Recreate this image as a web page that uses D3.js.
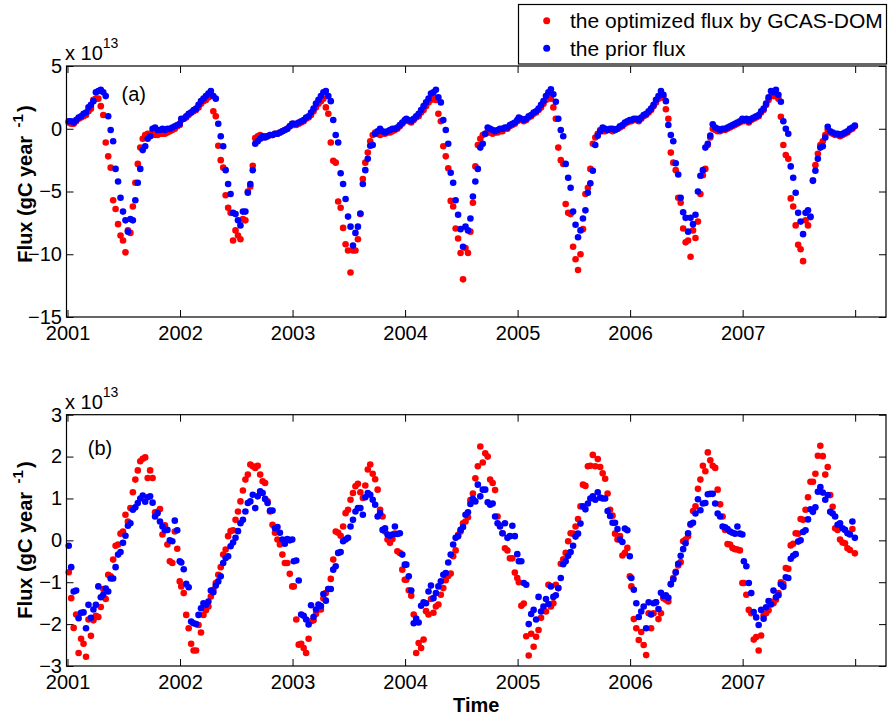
<!DOCTYPE html>
<html>
<head>
<meta charset="utf-8">
<title>Flux</title>
<script src="https://cdn.jsdelivr.net/npm/d3@7"></script>
<style>
  body { margin: 0; background: #fff; }
  svg { display: block; font-family: 'Liberation Sans', Arial, sans-serif; }
</style>
</head>
<body>
<svg id="chart" width="888" height="719"></svg>
<script>
'use strict';

var years = [2001, 2002, 2003, 2004, 2005, 2006, 2007];
var xTicks = [2001, 2002, 2003, 2004, 2005, 2006, 2007, 2008];
var yTicksA = [-15, -10, -5, 0, 5];
var yTicksB = [-3, -2, -1, 0, 1, 2, 3];
var seriesNames = ['the optimized flux by GCAS-DOM', 'the prior flux'];
var seriesColors = ['#ff0000', '#0000ff'];

// 8-day values (46 a year), units of 1e13 gC/year, one row per year
var optimizedA = [
  [0.5,0.4,0.4,0.6,0.8,0.9,1.0,1.1,1.4,1.6,2.3,2.4,2.4,1.8,1.1,-1.1,-2.2,-3.1,-5.7,-6.4,-7.6,-8.5,-8.9,-9.85,-8.1,-8.3,-6.2,-4.3,-2.8,-1.5,-0.8,-0.5,-0.4,-0.4,-0.5,-0.5,-0.5,-0.4,-0.4,-0.4,-0.3,-0.2,-0.1,0.0,0.2,0.3],
  [0.7,0.8,0.9,1.1,1.3,1.4,1.5,1.7,2.0,2.2,2.3,2.5,2.6,1.4,1.0,-1.35,-2.5,-3.1,-5.3,-6.3,-6.7,-8.9,-8.1,-8.5,-8.8,-7.2,-7.3,-5.0,-4.6,-2.95,-0.75,-0.6,-0.5,-0.7,-0.6,-0.6,-0.5,-0.5,-0.4,-0.4,-0.3,-0.2,-0.1,0.0,0.2,0.4],
  [0.3,0.3,0.4,0.5,0.6,0.8,0.9,1.1,1.4,1.7,2.0,2.2,2.4,1.7,1.2,-1.1,-2.55,-2.7,-5.8,-6.3,-7.9,-9.2,-9.7,-11.45,-9.7,-9.7,-8.8,-6.8,-4.0,-2.7,-1.9,-1.0,-0.5,-0.3,-0.4,-0.5,-0.4,-0.4,-0.3,-0.3,-0.2,-0.1,0.0,0.2,0.4,0.6],
  [0.7,0.6,0.5,0.7,0.9,1.0,1.3,1.5,1.8,2.1,2.3,2.5,2.3,1.2,0.6,-1.4,-2.2,-3.15,-5.75,-6.2,-7.95,-8.75,-9.9,-12.0,-9.5,-9.9,-8.2,-5.9,-3.0,-1.3,-0.8,-0.5,-0.4,-0.3,-0.3,-0.4,-0.3,-0.3,-0.2,-0.2,0.0,0.0,0.2,0.3,0.4,0.6],
  [0.8,0.7,0.6,0.7,0.9,1.0,1.2,1.3,1.5,1.7,2.0,2.3,2.6,2.4,1.7,0.8,-1.5,-2.5,-2.8,-6.0,-6.7,-6.8,-9.4,-10.4,-11.25,-10.0,-8.0,-5.2,-4.7,-3.2,-1.2,-0.7,-0.4,-0.1,-0.2,-0.2,-0.1,-0.1,-0.2,-0.1,0.0,0.1,0.2,0.4,0.5,0.6],
  [0.6,0.7,0.7,0.6,0.8,1.0,1.1,1.3,1.5,1.8,2.1,2.4,2.5,2.5,1.55,0.8,-1.9,-2.7,-3.3,-5.5,-5.9,-7.95,-9.05,-8.9,-10.2,-8.1,-8.7,-7.4,-5.2,-3.7,-3.2,-1.3,-0.7,0.0,-0.1,-0.2,-0.2,-0.1,-0.1,0.0,0.1,0.2,0.3,0.4,0.5,0.7],
  [0.6,0.7,0.5,0.7,0.8,0.9,1.0,1.3,1.5,1.9,2.3,2.6,2.6,2.6,2.4,0.95,-1.3,-2.1,-2.4,-5.55,-6.2,-7.7,-9.25,-9.6,-10.55,-7.3,-7.7,-7.05,-4.1,-2.9,-2.0,-1.3,-1.0,-0.5,-0.1,-0.3,-0.4,-0.5,-0.5,-0.6,-0.5,-0.4,-0.3,-0.1,0.0,0.2]
];

var priorA = [
  [0.6,0.6,0.5,0.7,0.9,1.0,1.2,1.3,1.7,1.9,2.2,2.9,3.0,3.1,2.9,2.6,1.0,-0.1,-1.0,-3.2,-4.2,-5.5,-6.6,-7.3,-8.2,-7.2,-7.3,-5.7,-4.3,-3.2,-1.7,-1.4,-0.8,-0.6,0.0,0.1,-0.1,-0.1,0.0,-0.1,0.0,0.0,0.1,0.2,0.3,0.4],
  [0.8,0.8,1.0,1.2,1.3,1.5,1.6,1.9,2.2,2.4,2.6,2.8,3.0,2.6,2.4,0.4,-0.6,-1.4,-3.3,-4.4,-5.2,-6.7,-6.8,-7.3,-7.7,-6.6,-6.6,-5.1,-4.4,-3.3,-1.2,-1.0,-0.8,-0.6,-0.7,-0.6,-0.5,-0.5,-0.4,-0.4,-0.3,-0.2,-0.1,0.0,0.2,0.4],
  [0.4,0.4,0.5,0.6,0.7,0.9,1.0,1.3,1.6,2.0,2.3,2.6,2.9,3.0,2.6,2.2,0.7,-0.5,-1.1,-3.55,-4.4,-5.6,-7.0,-7.8,-9.3,-8.3,-7.8,-6.75,-4.4,-3.3,-2.4,-1.35,-1.3,-0.4,-0.2,0.0,-0.2,-0.3,-0.2,-0.1,0.0,0.0,0.1,0.3,0.5,0.7],
  [0.8,0.7,0.6,0.8,1.0,1.2,1.5,1.8,2.1,2.4,2.8,2.9,3.1,2.5,2.1,0.7,-0.1,-1.2,-3.5,-4.3,-5.7,-6.85,-8.0,-9.4,-7.8,-8.1,-7.15,-5.4,-4.2,-3.2,-1.5,-1.2,-0.4,0.1,0.0,-0.1,-0.2,-0.1,0.0,0.0,0.1,0.1,0.3,0.4,0.5,0.7],
  [0.9,0.8,0.7,0.8,1.0,1.1,1.3,1.4,1.6,1.9,2.2,2.6,2.9,3.15,2.75,2.15,0.8,-0.1,-0.6,-2.8,-3.9,-4.7,-6.6,-7.65,-8.65,-8.1,-7.15,-6.5,-5.1,-4.35,-3.35,-1.3,-0.55,-0.2,0.1,0.0,-0.1,0.0,0.0,-0.1,0.0,0.2,0.3,0.5,0.6,0.7],
  [0.7,0.8,0.8,0.7,0.9,1.1,1.2,1.4,1.6,1.9,2.3,2.6,3.0,2.7,2.2,0.3,-0.5,-1.0,-2.75,-3.65,-5.5,-6.65,-7.1,-8.2,-7.1,-7.6,-6.85,-5.0,-3.75,-3.3,-1.5,-1.2,-0.55,0.35,0.1,0.0,-0.1,0.0,0.0,0.1,0.2,0.3,0.4,0.5,0.6,0.8],
  [0.7,0.8,0.6,0.8,0.9,1.0,1.1,1.4,1.6,2.0,2.5,3.0,2.9,3.1,2.7,2.15,0.6,0.0,-0.4,-3.0,-3.9,-5.1,-6.7,-7.4,-8.4,-6.7,-6.5,-7.0,-4.15,-3.35,-2.4,-1.5,-1.4,-0.7,0.15,-0.2,-0.3,-0.4,-0.4,-0.5,-0.4,-0.3,-0.2,0.0,0.1,0.25]
];

var optimizedB = [
  [-0.76,-1.38,-2.09,-1.77,-2.69,-2.35,-2.47,-2.78,-1.89,-2.28,-1.91,-1.8,-1.83,-1.59,-1.16,-1.4,-0.82,-0.86,-0.46,-0.13,-0.1,0.16,0.21,0.61,0.45,0.77,1.15,1.45,1.67,1.89,1.95,1.98,1.49,1.67,1.49,0.67,0.68,0.75,0.14,0.36,-0.1,-0.5,-0.54,0.21,-0.2,-0.98],
  [-1.1,-1.26,-1.78,-2.1,-2.47,-2.63,-2.63,-2.02,-2.2,-1.78,-1.67,-1.58,-1.34,-1.18,-1.02,-0.82,-0.64,-0.34,-0.22,0.1,0.22,0.24,0.49,0.69,0.93,1.19,1.45,1.57,1.81,1.77,1.73,1.78,1.57,1.41,1.37,0.93,0.69,0.37,0.18,0.02,-0.1,-0.34,-0.54,-0.54,-0.8,-1.1],
  [-1.1,-1.89,-2.49,-2.47,-2.57,-2.69,-2.35,-1.93,-1.91,-1.76,-1.65,-1.65,-1.39,-1.26,-1.16,-0.92,-0.46,0.21,0.18,0.11,0.33,0.65,0.73,0.97,1.13,1.29,1.35,1.15,1.01,1.31,1.69,1.81,1.59,1.46,1.21,0.73,0.57,0.21,0.02,-0.06,0.03,0.16,-0.26,-0.3,-0.7,-0.94],
  [-0.94,-1.19,-1.32,-1.77,-2.69,-2.45,-2.57,-2.37,-1.69,-1.77,-1.4,-1.73,-1.58,-1.53,-1.3,-1.14,-0.95,-0.85,-0.79,-0.38,-0.24,0.13,0.21,0.41,0.45,0.55,0.96,1.12,1.48,1.77,2.24,1.86,2.08,2.0,1.45,1.37,1.2,0.57,0.36,0.17,-0.19,-0.24,-0.43,-0.43,-0.77,-0.9],
  [-1.0,-1.56,-1.51,-2.29,-2.75,-2.23,-2.54,-2.3,-2.14,-1.85,-1.66,-1.7,-1.06,-1.58,-1.5,-1.06,-1.14,-0.56,-0.45,-0.3,-0.02,0.17,0.16,0.33,0.51,0.81,1.33,1.3,1.77,1.78,2.04,1.77,1.94,1.75,1.6,1.47,1.12,0.73,0.59,0.16,0.02,0.1,-0.36,-0.3,-0.18,-0.86],
  [-1.1,-1.88,-2.1,-2.38,-2.19,-2.5,-2.74,-1.74,-2.1,-1.74,-1.48,-1.88,-1.74,-1.38,-1.42,-1.46,-1.04,-0.9,-0.75,-0.6,-0.52,-0.02,0.02,0.1,0.37,0.7,0.81,1.23,1.45,1.78,1.65,2.1,1.91,1.78,1.73,1.21,0.86,0.57,0.25,-0.09,-0.1,-0.18,-0.21,-0.22,-0.24,-1.02],
  [-1.02,-1.3,-1.66,-1.74,-2.37,-2.31,-2.63,-2.27,-1.79,-1.74,-1.67,-1.46,-1.5,-1.42,-1.26,-1.0,-1.04,-0.66,-0.68,-0.12,-0.08,0.17,0.16,0.51,0.49,0.73,1.03,1.4,1.4,1.59,2.02,2.26,2.01,1.57,1.75,1.08,0.8,0.29,0.25,0.02,-0.05,-0.07,-0.19,-0.23,0.27,-0.31]
];

var priorB = [
  [-0.13,-0.64,-1.22,-1.2,-1.86,-1.73,-1.72,-2.1,-1.54,-1.85,-1.65,-1.54,-1.1,-1.36,-1.3,-1.15,-1.22,-0.91,-0.91,-0.64,-0.34,-0.28,-0.06,0.11,0.35,0.41,0.73,0.79,0.89,1.0,1.07,0.92,1.03,1.05,0.9,0.57,0.65,0.45,0.33,0.24,0.25,0.0,-0.02,0.47,0.24,-0.5],
  [-0.53,-0.69,-1.04,-1.12,-1.94,-1.98,-2.0,-1.78,-1.62,-1.5,-1.54,-1.46,-1.2,-1.24,-1.08,-0.98,-0.86,-0.54,-0.42,-0.38,-0.14,-0.05,0.06,0.22,0.41,0.49,0.69,0.89,0.93,1.09,0.77,1.05,1.17,1.13,0.99,0.89,0.71,0.71,0.29,0.32,0.18,0.02,-0.08,0.03,0.0,0.02],
  [-0.5,-0.48,-0.96,-1.77,-1.8,-1.89,-2.01,-1.55,-1.83,-1.65,-1.53,-1.57,-1.28,-1.44,-1.16,-1.16,-0.7,-0.62,-0.3,-0.28,-0.02,0.02,0.06,0.33,0.49,0.69,0.77,0.77,0.61,1.03,1.13,1.09,0.97,0.85,0.57,0.65,0.25,0.29,0.14,0.11,0.14,0.33,0.15,0.17,-0.34,-0.58],
  [-0.58,-0.86,-1.2,-1.98,-1.87,-1.96,-1.56,-1.48,-1.5,-1.22,-1.08,-1.38,-1.26,-1.1,-0.98,-0.82,-0.78,-0.53,-0.34,-0.1,0.06,0.1,0.25,0.32,0.61,0.67,0.87,0.99,0.93,1.33,1.05,1.21,1.21,0.91,0.85,0.88,0.57,0.41,0.33,0.17,0.41,0.06,0.1,0.35,0.1,-0.33],
  [-0.5,-0.5,-1.02,-1.06,-2.0,-1.76,-1.66,-1.89,-1.35,-1.7,-1.58,-1.4,-1.52,-1.1,-1.35,-1.31,-1.14,-0.9,-0.57,-0.5,-0.37,-0.28,-0.13,0.09,0.16,0.4,0.81,0.74,0.88,1.0,1.05,0.97,1.15,1.02,1.0,1.0,0.7,0.58,0.42,0.42,0.27,0.02,-0.04,0.28,0.24,-0.38],
  [-0.9,-1.18,-1.5,-1.83,-1.7,-1.58,-2.1,-1.48,-1.77,-1.5,-1.48,-1.64,-1.25,-1.33,-1.31,-1.37,-1.05,-0.93,-0.77,-0.56,-0.37,-0.21,-0.07,0.17,0.39,0.42,0.64,0.98,0.72,0.88,0.89,1.1,1.11,1.11,0.88,0.64,0.57,0.33,0.31,0.27,0.21,0.18,0.16,0.33,0.16,0.14],
  [-0.5,-0.62,-1.02,-1.26,-1.71,-1.84,-2.02,-1.66,-1.87,-1.6,-1.45,-1.53,-1.2,-1.36,-1.31,-1.05,-1.11,-0.88,-0.9,-0.44,-0.37,-0.33,-0.03,0.0,0.2,0.24,0.5,0.74,0.68,0.79,1.16,1.27,1.14,0.97,1.08,0.68,0.64,0.57,0.37,0.41,0.29,0.25,0.17,0.14,0.45,0.06]
];

var width = 888;
var height = 719;
var left = 66.5;
var right = 886;
var fontSize = 20;
var dotRadius = 3.3;

var svg = d3.select('#chart')
  .attr('width', width)
  .attr('height', height);

svg.append('rect')
  .attr('width', width)
  .attr('height', height)
  .attr('fill', '#fff');

var x = d3.scaleLinear()
  .domain([2000.991, 2008.274])
  .range([left, right]);

// rows of 8-day values -> {t, v}, t at the middle of each 8-day window
function toPoints(rows) {
  var points = [];
  rows.forEach(function(row, k) {
    row.forEach(function(v, i) {
      points.push({ t: years[k] + (8 * i + 4) / 365, v: v });
    });
  });
  return points;
}

function styleAxis(g) {
  g.select('.domain').remove();
  g.attr('color', '#000')
    .attr('font-size', fontSize)
    .attr('font-family', null);
  g.selectAll('line').attr('stroke-width', 1);
}

function drawPanel(panel) {
  var y = d3.scaleLinear()
    .domain(panel.domain)
    .range([panel.bottom, panel.top]);

  var g = svg.append('g');

  g.append('g')
    .attr('transform', 'translate(0,' + panel.bottom + ')')
    .call(d3.axisBottom(x)
      .tickValues(xTicks)
      .tickSizeInner(-7)
      .tickSizeOuter(0)
      .tickPadding(8.5)
      .tickFormat(function(d) { return d < 2008 ? String(d) : ''; }))
    .call(styleAxis);

  g.append('g')
    .attr('transform', 'translate(0,' + panel.top + ')')
    .call(d3.axisTop(x).tickValues(xTicks).tickSizeInner(-7).tickSizeOuter(0).tickFormat(''))
    .call(styleAxis);

  g.append('g')
    .attr('transform', 'translate(' + left + ',0)')
    .call(d3.axisLeft(y)
      .tickValues(panel.ticks)
      .tickSizeInner(-7)
      .tickSizeOuter(0)
      .tickPadding(4.5)
      .tickFormat(d3.format('d')))
    .call(styleAxis);

  g.append('g')
    .attr('transform', 'translate(' + right + ',0)')
    .call(d3.axisRight(y).tickValues(panel.ticks).tickSizeInner(-7).tickSizeOuter(0).tickFormat(''))
    .call(styleAxis);

  // red first, blue drawn over it
  [panel.optimized, panel.prior].forEach(function(rows, s) {
    g.append('g')
      .attr('fill', seriesColors[s])
      .selectAll('circle')
      .data(toPoints(rows))
      .enter().append('circle')
      .attr('cx', function(d) { return x(d.t); })
      .attr('cy', function(d) { return y(d.v); })
      .attr('r', dotRadius);
  });

  g.append('rect')
    .attr('x', left)
    .attr('y', panel.top)
    .attr('width', right - left)
    .attr('height', panel.bottom - panel.top)
    .attr('fill', 'none')
    .attr('stroke', '#000')
    .attr('stroke-width', 1.2);

  g.append('text')
    .attr('x', x(panel.tagAt[0]))
    .attr('y', y(panel.tagAt[1]))
    .attr('dy', '0.35em')
    .attr('font-size', fontSize)
    .text(panel.tag);

  var exp = g.append('text')
    .attr('x', left - 1.5)
    .attr('y', panel.top - 6)
    .attr('font-size', fontSize)
    .text('x 10');
  exp.append('tspan')
    .attr('dy', -12)
    .attr('font-size', 14)
    .text('13');

  var label = g.append('text')
    .attr('transform', 'translate(32,' + panel.labelY + ') rotate(-90)')
    .attr('text-anchor', 'middle')
    .attr('font-size', fontSize)
    .attr('font-weight', 'bold')
    .text('Flux (gC year ');
  label.append('tspan')
    .attr('dx', 3)
    .attr('dy', -9)
    .attr('font-size', 15)
    .text('-1');
  label.append('tspan')
    .attr('dx', 2)
    .attr('dy', 9)
    .text(')');
}

drawPanel({
  top: 66, bottom: 317, domain: [-15, 5], ticks: yTicksA, labelY: 184,
  optimized: optimizedA, prior: priorA, tag: '(a)', tagAt: [2001.48, 2.8]
});
drawPanel({
  top: 414.7, bottom: 666, domain: [-3, 3], ticks: yTicksB, labelY: 540,
  optimized: optimizedB, prior: priorB, tag: '(b)', tagAt: [2001.18, 2.2]
});

svg.append('text')
  .attr('x', (left + right) / 2)
  .attr('y', 712)
  .attr('text-anchor', 'middle')
  .attr('font-size', fontSize)
  .attr('font-weight', 'bold')
  .text('Time');

// legend
var legend = svg.append('g');
legend.append('rect')
  .attr('x', 518.5)
  .attr('y', 4.5)
  .attr('width', 368)
  .attr('height', 59.5)
  .attr('fill', '#fff')
  .attr('stroke', '#000')
  .attr('stroke-width', 1.2);

seriesNames.forEach(function(name, s) {
  legend.append('circle')
    .attr('cx', 546.7)
    .attr('cy', 20.7 + 27.6 * s)
    .attr('r', 3.5)
    .attr('fill', seriesColors[s]);
  legend.append('text')
    .attr('x', 570)
    .attr('y', 27.7 + 28 * s)
    .attr('font-size', 21)
    .text(name);
});
</script>
</body>
</html>
